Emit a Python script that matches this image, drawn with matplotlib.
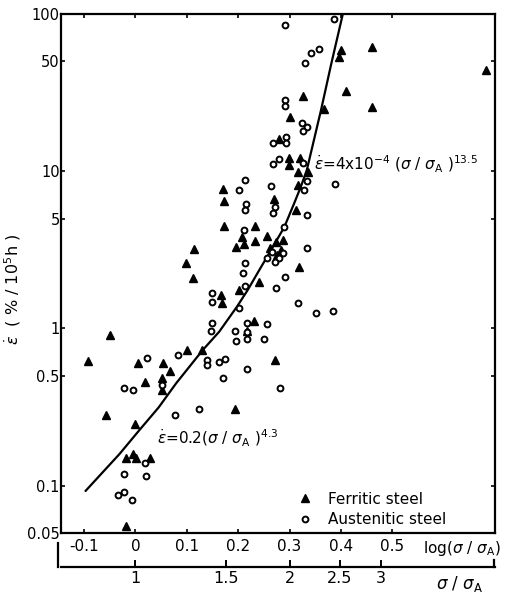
import matplotlib
matplotlib.use("Agg")
import matplotlib.pyplot as plt
import numpy as np

plt.rcParams['mathtext.fontset'] = 'dejavusans'
plt.rcParams['font.family'] = ['DejaVu Sans']

# log(sigma/sigma_A), strain rate (% / 10^5 h)
ferritic_x = [-0.093, -0.049, -0.057, -0.019, 0.0, 0.005, 0.019, -0.019, -0.004, 0.001,
              0.029, 0.053, 0.067, 0.052, 0.052, 0.101, 0.130, 0.193, 0.168, 0.171,
              0.173, 0.172, 0.114, 0.098, 0.112, 0.167, 0.196, 0.212, 0.232, 0.232,
              0.207, 0.2165, 0.2315, 0.257, 0.274, 0.287, 0.319, 0.241, 0.202, 0.272,
              0.269, 0.313, 0.317, 0.316, 0.335, 0.298, 0.298, 0.320, 0.279, 0.300,
              0.327, 0.368, 0.410, 0.461, 0.461, 0.400, 0.3955, 0.683, 0.261, 0.276,
              0.284]
ferritic_y = [0.62, 0.91, 0.28, 0.055, 0.245, 0.605, 0.458, 0.149, 0.160, 0.149,
              0.151, 0.60, 0.536, 0.483, 0.406, 0.734, 0.734, 0.307, 1.445, 7.67,
              6.46, 4.51, 3.22, 2.62, 2.08, 1.63, 3.31, 3.43, 4.50, 3.61,
              3.83, 0.967, 1.12, 3.90, 3.56, 3.65, 2.47, 1.98, 1.75, 0.632,
              6.67, 5.66, 8.17, 9.86, 9.86, 12.2, 11.0, 12.1, 15.96, 22.0,
              30.0, 24.7, 32.4, 25.7, 62.1, 58.7, 53.5, 44.3, 3.25, 2.93,
              3.15]

austenitic_x = [0.022, -0.022, -0.004, 0.018, -0.022, 0.021, -0.034, -0.0214, -0.006, 0.052,
                0.082, 0.0765, 0.123, 0.139, 0.139, 0.162, 0.1735, 0.170, 0.149, 0.149,
                0.148, 0.1485, 0.201, 0.1946, 0.1955, 0.218, 0.218, 0.218, 0.2496, 0.257,
                0.217, 0.281, 0.317, 0.3515, 0.384, 0.213, 0.202, 0.215, 0.214, 0.212,
                0.2126, 0.210, 0.214, 0.264, 0.272, 0.268, 0.290, 0.333, 0.333, 0.329,
                0.334, 0.389, 0.291, 0.274, 0.2675, 0.279, 0.3255, 0.2685, 0.293, 0.293,
                0.3235, 0.333, 0.3255, 0.2905, 0.2905, 0.3307, 0.341, 0.358, 0.292, 0.387,
                0.265, 0.280, 0.288, 0.272, 0.257]
austenitic_y = [0.646, 0.417, 0.406, 0.140, 0.1186, 0.115, 0.0867, 0.0915, 0.081, 0.436,
                0.677, 0.281, 0.306, 0.630, 0.585, 0.614, 0.636, 0.486, 1.48, 1.087,
                0.967, 1.68, 1.34, 0.967, 0.835, 1.077, 0.95, 0.853, 0.853, 1.06,
                0.549, 0.416, 1.457, 1.248, 1.30, 8.73, 7.59, 6.18, 5.66, 4.23,
                2.59, 2.26, 1.86, 8.05, 5.94, 5.40, 4.43, 3.23, 5.26, 7.63,
                8.62, 8.32, 2.13, 1.80, 11.1, 11.9, 11.2, 15.2, 16.5, 15.1,
                20.3, 19.0, 17.9, 28.5, 25.9, 48.8, 56.5, 59.6, 85.1, 93.3,
                3.06, 2.80, 3.02, 2.65, 2.80]

# fitted curve
curve_x = [-0.0973, -0.0311, 0.0078, 0.0453, 0.0792, 0.131, 0.163, 0.1975, 0.2185,
           0.241, 0.264, 0.290, 0.309, 0.322, 0.3337, 0.3613, 0.3807, 0.4033]
curve_y = [0.0925, 0.159, 0.226, 0.315, 0.448, 0.729, 0.953, 1.374, 1.755,
           2.35, 3.15, 4.43, 6.25, 7.97, 10.2, 24.5, 47.4, 98.6]

xticks = [-0.1, 0, 0.1, 0.2, 0.3, 0.4, 0.5]
xticklabels = ['-0.1', '0', '0.1', '0.2', '0.3', '0.4', '0.5']
yticks = [0.05, 0.1, 0.5, 1, 5, 10, 50, 100]
yticklabels = ['0.05', '0.1', '0.5', '1', '5', '10', '50', '100']
ratio_ticks = [1, 1.5, 2, 2.5, 3]
ratio_labels = ['1', '1.5', '2', '2.5', '3']

fig = plt.figure(figsize=(5.14, 5.93), dpi=100)
ax = fig.add_axes([0.1187, 0.1012, 0.8443, 0.8752])

ax.plot(curve_x, curve_y, color='black', lw=1.6, solid_capstyle='round')
ax.plot(ferritic_x, ferritic_y, ls='none', marker='^', ms=5.8, color='black',
        label='Ferritic steel')
ax.plot(austenitic_x, austenitic_y, ls='none', marker='o', ms=4.2, mfc='white',
        mec='black', mew=1.4, label='Austenitic steel')

ax.set_yscale('log')
ax.set_xlim(-0.145, 0.70)
ax.set_ylim(0.05, 100)
ax.set_xticks(xticks)
ax.set_xticklabels(xticklabels, fontsize=11)
ax.set_yticks(yticks)
ax.set_yticklabels(yticklabels, fontsize=10.5)
ax.yaxis.set_minor_locator(matplotlib.ticker.NullLocator())
ax.tick_params(which='both', direction='in', top=True, right=True, length=3, width=1.2)
ax.tick_params(axis='x', pad=4)
ax.tick_params(axis='y', pad=1)
for s in ax.spines.values():
    s.set_linewidth(1.6)

ax.set_ylabel(r'$\dot{\varepsilon}$  ( % / 10$^5$h )', fontsize=11.5)
ax.yaxis.set_label_coords(-0.088, 0.47)

ax.text(0.924, -0.012, r'log($\sigma$ / $\sigma_{\rm A}$)', transform=ax.transAxes,
        ha='center', va='top', fontsize=11)

ax.annotate(r'$\dot{\varepsilon}$=4x10$^{-4}$ ($\sigma$ / $\sigma_{\rm A}$ )$^{13.5}$',
            xy=(0.348, 11.0), ha='left', va='center', fontsize=11)
ax.annotate(r'$\dot{\varepsilon}$=0.2($\sigma$ / $\sigma_{\rm A}$ )$^{4.3}$',
            xy=(0.041, 0.20), ha='left', va='center', fontsize=11)

ax.legend(loc='lower left', bbox_to_anchor=(0.50, -0.012), frameon=False,
          fontsize=11, handletextpad=0.5, labelspacing=0.35, borderpad=0.3)

sec = ax.secondary_xaxis(-0.066, functions=(lambda v: 10 ** v, np.log10))
sec.set_xticks(ratio_ticks)
sec.set_xticklabels(ratio_labels, fontsize=11.5)
sec.tick_params(direction='in', length=5, width=1.4, pad=3)
sec.spines['bottom'].set_linewidth(1.6)
ax.plot([-0.007, -0.007], [-0.019, -0.066], transform=ax.transAxes, color='black',
        lw=1.6, clip_on=False)
ax.plot([0.998, 0.998], [-0.052, -0.066], transform=ax.transAxes, color='black',
        lw=1.6, clip_on=False)
ax.text(0.919, -0.098, r'$\sigma$ / $\sigma_{\rm A}$', transform=ax.transAxes,
        ha='center', va='center', fontsize=12)

fig.savefig('out.png', dpi=100)
